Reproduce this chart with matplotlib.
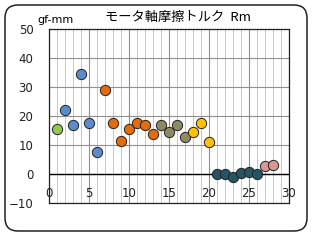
import matplotlib.pyplot as plt
import matplotlib.patches as mpatches
from matplotlib.ticker import MultipleLocator

# Data (x = sample no., y = torque in gf-mm)
green_x = [1]
green_y = [15.5]
blue_x = [2, 3, 4, 5, 6]
blue_y = [22.0, 17.0, 34.5, 17.8, 7.8]
orange_x = [7, 8, 9, 10, 11, 12, 13]
orange_y = [29.0, 17.5, 11.5, 15.5, 17.5, 16.8, 13.7]
olive_x = [14, 15, 16, 17]
olive_y = [16.8, 14.4, 17.1, 13.0]
yellow_x = [18, 19, 20]
yellow_y = [14.7, 17.8, 11.1]
teal_x = [21, 22, 23, 24, 25, 26]
teal_y = [0.2, 0.2, -0.8, 0.6, 0.9, 0.2]
pink_x = [27, 28]
pink_y = [2.8, 3.1]

groups = [(green_x, green_y, '#92C752'),
          (blue_x, blue_y, '#5A8BCB'),
          (orange_x, orange_y, '#E46C0A'),
          (olive_x, olive_y, '#8E8B62'),
          (yellow_x, yellow_y, '#FFC000'),
          (teal_x, teal_y, '#255565'),
          (pink_x, pink_y, '#D99694')]

fig = plt.figure(figsize=(3.16, 2.41), dpi=100)
ax = fig.add_axes([0.154, 0.156, 0.760, 0.724])

# rounded outer frame
frame = mpatches.FancyBboxPatch((0.05, 0.10), 3.02, 2.26,
                                boxstyle='round,pad=0,rounding_size=0.13',
                                transform=fig.dpi_scale_trans,
                                fill=False, edgecolor='#222222', lw=1.1)
fig.patches.append(frame)

for xs, ys, c in groups:
    ax.scatter(xs, ys, s=55, color=c, edgecolor='#222222',
               linewidth=0.7, zorder=4)

ax.set_xlim(0, 30)
ax.set_ylim(-10, 50)
ax.xaxis.set_major_locator(MultipleLocator(5))
ax.xaxis.set_minor_locator(MultipleLocator(1))
ax.yaxis.set_major_locator(MultipleLocator(10))
ax.grid(which='minor', axis='x', color='#c8c8c8', lw=0.7)
ax.grid(which='major', axis='x', color='#909090', lw=0.8)
ax.grid(which='major', axis='y', color='#909090', lw=0.8)
ax.set_axisbelow(True)

for s in ax.spines.values():
    s.set_color('#222222')
    s.set_linewidth(0.9)
ax.axhline(0, color='black', lw=1.0, zorder=2)

ax.tick_params(which='both', length=0)
ax.tick_params(axis='x', labelsize=8.5, pad=-11.5, colors='#222222')
ax.tick_params(axis='y', labelsize=8.5, pad=11, colors='#222222')

fig.text(0.563, 0.929, 'モータ軸摩擦トルク  Rm', ha='center', va='center',
         fontsize=9.5, family=['Noto Sans CJK JP', 'DejaVu Sans'])
fig.text(0.117, 0.918, 'gf-mm', ha='left', va='center', fontsize=8)

fig.savefig('out.png', dpi=100)
